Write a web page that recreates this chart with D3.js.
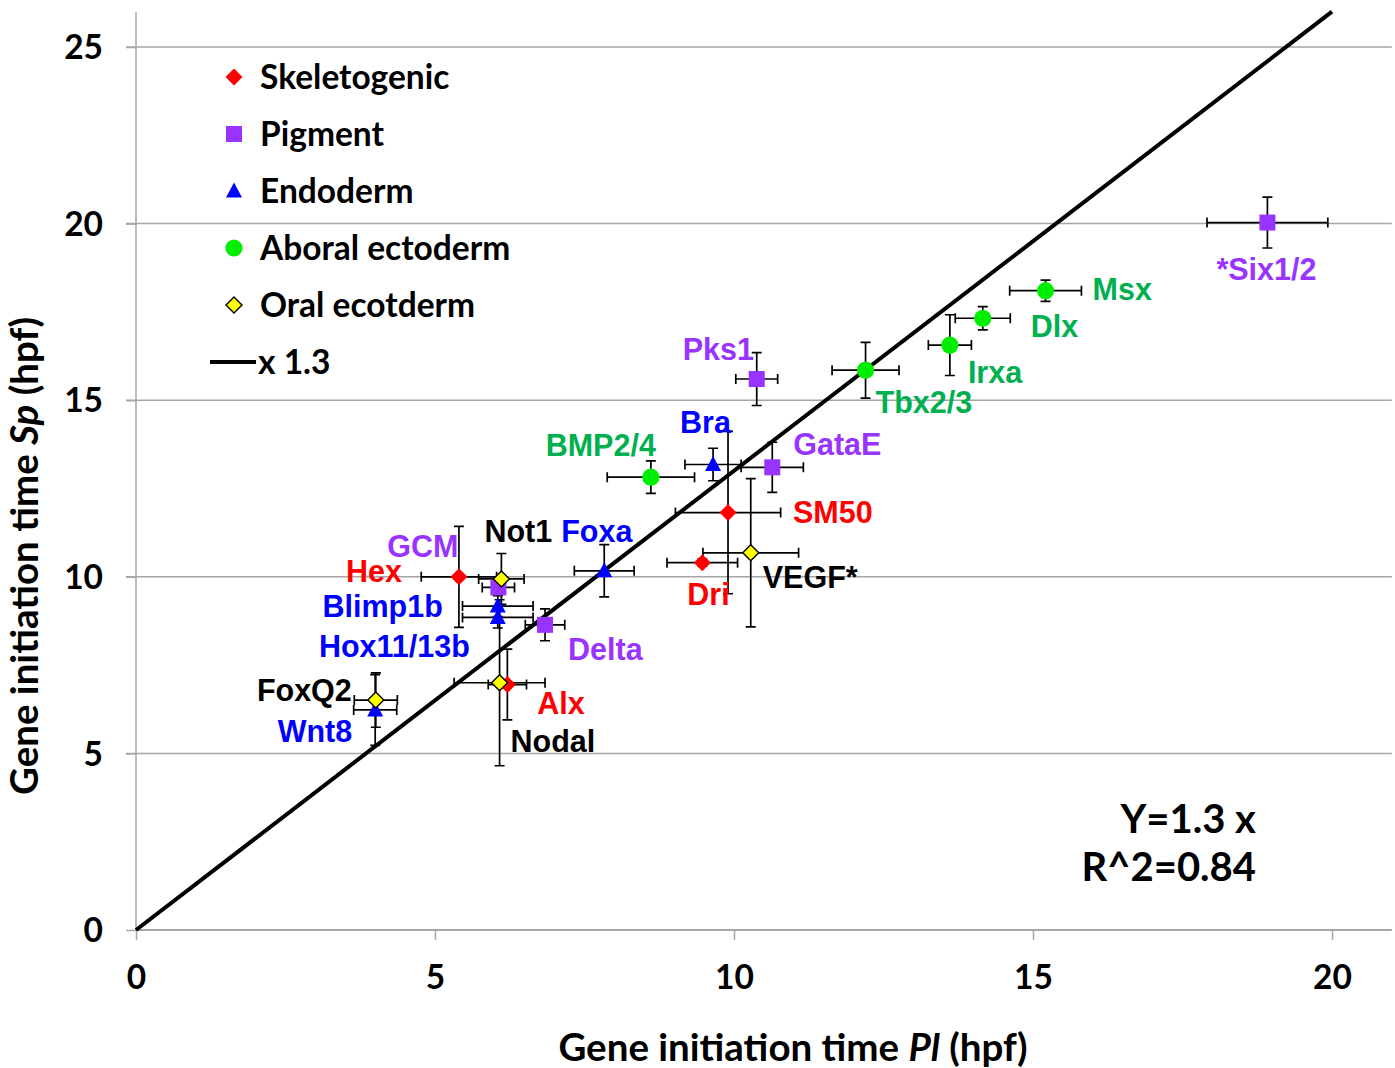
<!DOCTYPE html>
<html><head><meta charset="utf-8">
<script src="https://cdn.jsdelivr.net/npm/d3@7"></script>
<style>body{margin:0;background:#fff}svg{display:block}</style>
</head><body>
<script>
// ---- data ----
const genes   = ["Hex","Alx","SM50","Dri","GCM","Delta","Pks1","GataE","*Six1/2","Foxa","Blimp1b","Hox11/13b","Wnt8","Bra","BMP2/4","Tbx2/3","Irxa","Dlx","Msx","Not1","Nodal","FoxQ2","VEGF*"];
const groups  = ["Skeletogenic","Skeletogenic","Skeletogenic","Skeletogenic","Pigment","Pigment","Pigment","Pigment","Pigment","Endoderm","Endoderm","Endoderm","Endoderm","Endoderm","Aboral ectoderm","Aboral ectoderm","Aboral ectoderm","Aboral ectoderm","Aboral ectoderm","Oral ecotderm","Oral ecotderm","Oral ecotderm","Oral ecotderm"];
const plTime  = [5.4, 6.21, 9.9, 9.47, 6.06, 6.84, 10.38, 10.64, 18.92, 7.83, 6.05, 6.05, 4.0, 9.65, 8.61, 12.2, 13.61, 14.16, 15.21, 6.11, 6.08, 4.01, 10.28];
const spTime  = [10.0, 6.95, 11.82, 10.4, 9.7, 8.64, 15.6, 13.1, 20.03, 10.17, 9.17, 8.85, 6.23, 13.18, 12.82, 15.85, 16.56, 17.32, 18.1, 9.94, 7.0, 6.51, 10.68];
const plError = [0.63, 0.32, 0.88, 0.59, 0.27, 0.33, 0.35, 0.52, 1.01, 0.5, 0.59, 0.59, 0.36, 0.47, 0.73, 0.56, 0.36, 0.46, 0.6, 0.38, 0.76, 0.36, 0.8];
const spError = [1.43, 1.0, 2.3, 0.1, 0.2, 0.45, 0.75, 0.71, 0.72, 0.74, 0.3, 0.3, 1.0, 0.46, 0.46, 0.79, 0.86, 0.33, 0.3, 0.72, 2.35, 0.77, 2.1];
const legendNames = ["Skeletogenic","Pigment","Endoderm","Aboral ectoderm","Oral ecotderm"];
const slope = 1.3;
const xTicks = [0,5,10,15,20];
const yTicks = [0,5,10,15,20,25];
const fitText = ["Y=1.3 x","R^2=0.84"];

// ---- styles / layout ----
const markerFill  = {"Skeletogenic":"#ff0000","Pigment":"#9933ff","Endoderm":"#0000ff","Aboral ectoderm":"#00ee00","Oral ecotderm":"#ffff00"};
const labelColor  = {"Skeletogenic":"#ff0000","Pigment":"#9933ff","Endoderm":"#0000ff","Aboral ectoderm":"#00b050","Oral ecotderm":"#000000"};
const shapes      = {"Skeletogenic":"diamond","Pigment":"square","Endoderm":"triangle","Aboral ectoderm":"circle","Oral ecotderm":"diamondO"};
// label offsets from point (px): [dx, dy(baseline), anchor]
const labelPos = {
 "Hex":[-57,5,"end"],"GCM":[-40,-30,"end"],"Not1":[-17,-37,"start"],"Foxa":[-43,-29,"start"],
 "Blimp1b":[-55,11,"end"],"Hox11/13b":[-28,40,"end"],"Delta":[23,35,"start"],"FoxQ2":[-24,1,"end"],
 "Wnt8":[-23,32,"end"],"Alx":[30,29,"start"],"Nodal":[11,69,"start"],"BMP2/4":[5,-21,"end"],
 "Bra":[-33,-31,"start"],"GataE":[21,-12,"start"],"SM50":[65,10,"start"],"VEGF*":[12,35,"start"],
 "Dri":[-15,42,"start"],"Pks1":[-74,-19,"start"],"Tbx2/3":[10,43,"start"],"Irxa":[18,38,"start"],
 "Dlx":[48,19,"start"],"Msx":[47,9,"start"],"*Six1/2":[-51,57,"start"]
};

const W = 1395, H = 1068;
const svg = d3.select("body").append("svg").attr("width",W).attr("height",H);
const x = d3.scaleLinear().domain([0,21]).range([136,1391.8]);
const y = d3.scaleLinear().domain([0,26]).range([930,11.7]);
const calib = "Lato, 'Open Sans', sans-serif";
const arial = "'Liberation Sans', Arial, sans-serif";
const grid = "#a6a6a6";

// gridlines
svg.append("g").selectAll("line").data(yTicks.filter(d=>d>0)).join("line")
  .attr("x1",126).attr("x2",x.range()[1]).attr("y1",d=>y(d)).attr("y2",d=>y(d))
  .attr("stroke",grid).attr("stroke-width",1.5);
// axes
const yAxis = d3.axisLeft(y).tickValues(yTicks).tickSize(10).tickFormat(d3.format("d"));
const gy = svg.append("g").attr("transform",`translate(${x(0)},0)`).call(yAxis);
gy.select(".domain").attr("stroke",grid).attr("stroke-width",1.5).attr("d",`M0,${y.range()[1]}V${y(0)}`);
gy.selectAll(".tick line").attr("stroke",grid).attr("stroke-width",1.5);
gy.selectAll(".tick text").attr("x",-33).attr("dy","0.35em").attr("font-family",calib).attr("font-weight","bold").attr("font-size",33.5).attr("fill","#000");
const xAxis = d3.axisBottom(x).tickValues(xTicks).tickSize(10).tickFormat(d3.format("d"));
const gx = svg.append("g").attr("transform",`translate(0,${y(0)})`).call(xAxis);
gx.select(".domain").attr("stroke",grid).attr("stroke-width",2).attr("d",`M${x(0)},0H${x.range()[1]}`);
gx.selectAll(".tick line").attr("stroke",grid).attr("stroke-width",1.5);
gx.selectAll(".tick text").attr("y",47).attr("dy","0.35em").attr("font-family",calib).attr("font-weight","bold").attr("font-size",33.5).attr("fill","#000");

// axis titles
const xt = svg.append("text").attr("x",793).attr("y",1061).attr("text-anchor","middle")
  .attr("font-family",calib).attr("font-weight","bold").attr("font-size",38.5);
xt.append("tspan").text("Gene initiation time ");
xt.append("tspan").attr("font-style","italic").text("Pl");
xt.append("tspan").text(" (hpf)");
const yt = svg.append("text").attr("transform","translate(38,556) rotate(-90)").attr("text-anchor","middle")
  .attr("font-family",calib).attr("font-weight","bold").attr("font-size",38.5);
yt.append("tspan").text("Gene initiation time ");
yt.append("tspan").attr("font-style","italic").text("Sp");
yt.append("tspan").text(" (hpf)");

// reference line y = 1.3x, clipped at plot top
const xEnd = y.domain()[1]/slope;
svg.append("line").attr("x1",x(0)).attr("y1",y(0)).attr("x2",x(xEnd)).attr("y2",y(slope*xEnd))
  .attr("stroke","#000").attr("stroke-width",4);

const pts = genes.map((g,i)=>({name:g,group:groups[i],px:plTime[i],py:spTime[i],ex:plError[i],ey:spError[i]}));

// error bars
const eb = svg.append("g").attr("stroke","#000").attr("stroke-width",1.7).attr("fill","none");
const cap = 5;
pts.forEach(d=>{
  const cx=x(d.px), cy=y(d.py), x0=x(d.px-d.ex), x1=x(d.px+d.ex), y0=y(d.py-d.ey), y1=y(d.py+d.ey);
  eb.append("path").attr("d",`M${x0},${cy}H${x1}M${x0},${cy-cap}V${cy+cap}M${x1},${cy-cap}V${cy+cap}`);
  eb.append("path").attr("d",`M${cx},${y0}V${y1}M${cx-cap},${y0}H${cx+cap}M${cx-cap},${y1}H${cx+cap}`);
});

function marker(sel, shape, fill){
  if(shape==="diamond") sel.append("path").attr("d","M0,-8.5L8.5,0L0,8.5L-8.5,0Z").attr("fill",fill);
  else if(shape==="diamondO") sel.append("path").attr("d","M0,-8L8,0L0,8L-8,0Z").attr("fill",fill).attr("stroke","#000").attr("stroke-width",1.4);
  else if(shape==="square") sel.append("rect").attr("x",-8).attr("y",-8).attr("width",16).attr("height",16).attr("fill",fill);
  else if(shape==="triangle") sel.append("path").attr("d","M0,-8.5L8,6.5L-8,6.5Z").attr("fill",fill);
  else sel.append("circle").attr("r",8.6).attr("fill",fill);
}
const mg = svg.append("g");
pts.forEach(d=>{
  const g = mg.append("g").attr("transform",`translate(${x(d.px)},${y(d.py)})`);
  marker(g, shapes[d.group], markerFill[d.group]);
});

// point labels
const lg = svg.append("g").attr("font-family",arial).attr("font-weight","bold").attr("font-size",30.5);
pts.forEach(d=>{
  const o = labelPos[d.name];
  lg.append("text").attr("x",x(d.px)+o[0]).attr("y",y(d.py)+o[1]).attr("text-anchor",o[2])
    .attr("fill",labelColor[d.group]).text(d.name);
});

// legend
const leg = svg.append("g");
legendNames.forEach((n,i)=>{
  const cy = 77 + i*57;
  const g = leg.append("g").attr("transform",`translate(234,${cy})`);
  marker(g, shapes[n], markerFill[n]);
  leg.append("text").attr("x",260).attr("y",cy+12).attr("font-family",calib).attr("font-weight","bold").attr("font-size",33.5).text(n);
});
leg.append("line").attr("x1",210).attr("x2",256).attr("y1",362).attr("y2",362).attr("stroke","#000").attr("stroke-width",4);
leg.append("text").attr("x",258).attr("y",374).attr("font-family",calib).attr("font-weight","bold").attr("font-size",33.5).text("x 1.3");

// fit annotation
fitText.forEach((t,i)=>{
  svg.append("text").attr("x",1256).attr("y",833+i*48).attr("text-anchor","end")
    .attr("font-family",calib).attr("font-weight","bold").attr("font-size",40).text(t);
});
</script>
</body></html>
